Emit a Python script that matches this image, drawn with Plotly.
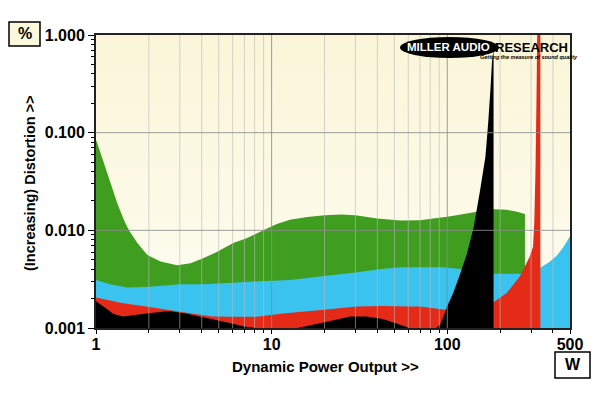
import plotly.graph_objects as go

# ---- data (W, %) ----
green_x = [1, 1.017, 1.11, 1.21, 1.32, 1.44, 1.54, 1.72, 1.96, 2.33, 2.9, 3.46, 4.1, 4.87, 6.05, 7.2, 8.97, 10.7, 12.7, 16, 20, 25, 30, 40, 54, 70, 83, 100, 113, 147, 185, 218, 249, 277]
green_y = [0.084, 0.078, 0.0487, 0.0305, 0.019, 0.0128, 0.010, 0.0074, 0.0056, 0.0048, 0.0044, 0.0046, 0.0052, 0.0060, 0.0074, 0.0083, 0.010, 0.0116, 0.0128, 0.0137, 0.0143, 0.0145, 0.0143, 0.0132, 0.0126, 0.0127, 0.0132, 0.0138, 0.0143, 0.0155, 0.0164, 0.0162, 0.0155, 0.0147]

cyan_x = [1, 1.2, 1.5, 1.76, 2, 3, 4, 6, 8, 12.7, 20, 30, 41, 54, 80, 95, 123, 150, 185, 277, 341, 380, 420, 460, 500]
cyan_y = [0.0031, 0.0028, 0.0026, 0.00262, 0.00265, 0.0028, 0.0028, 0.0029, 0.0030, 0.0031, 0.0034, 0.0037, 0.0040, 0.0042, 0.0042, 0.0042, 0.0040, 0.0038, 0.0036, 0.0036, 0.0042, 0.0047, 0.0055, 0.0068, 0.0087]

red_x = [1, 1.4, 1.93, 3, 4.6, 6, 8.2, 11.6, 20.5, 30.5, 43, 61, 70, 100, 120, 150, 185, 218, 260, 295, 308, 313, 318, 322, 326, 339]
red_y = [0.00205, 0.0018, 0.00166, 0.00147, 0.00131, 0.0013, 0.0013, 0.00141, 0.00155, 0.00166, 0.00168, 0.00166, 0.00166, 0.00153, 0.0015, 0.0016, 0.00186, 0.00228, 0.0034, 0.0054, 0.0068, 0.012, 0.04, 0.2, 1.5, 1.5]

black_x = [1, 1.14, 1.25, 1.42, 1.93, 2.6, 3.25, 4.2, 5.7, 7.1, 8.2, 10, 12, 13.3, 19.7, 28, 34.7, 43, 54, 61, 75, 85, 91, 95, 100, 108, 118.5, 129.6, 141.6, 154, 165, 171, 176, 180, 183.5]
black_y = [0.00188, 0.00159, 0.0014, 0.00131, 0.00141, 0.00149, 0.00141, 0.00127, 0.00113, 0.00103, 0.0010, 0.00085, 0.00085, 0.00098, 0.00114, 0.00131, 0.00131, 0.00124, 0.00108, 0.0010, 0.00095, 0.00098, 0.00108, 0.0013, 0.00168, 0.00227, 0.0036, 0.0058, 0.0109, 0.026, 0.057, 0.125, 0.27, 0.55, 0.7]

x_major = [1, 10, 100, 500]
x_major_text = ["1", "10", "100", "500"]
x_minor = [2, 3, 4, 5, 6, 7, 8, 9, 20, 30, 40, 50, 60, 70, 80, 90, 200, 300, 400]
y_major = [0.001, 0.01, 0.1, 1]
y_major_text = ["0.001", "0.010", "0.100", "1.000"]
y_minor = [m * 10 ** e for e in (-3, -2, -1) for m in range(2, 10)]

FLOOR = 0.0005
FONT = "Liberation Sans, Arial, sans-serif"

fig = go.Figure()

# background gradient of the plot area
fig.add_trace(go.Scatter(x=[1, 500, 500, 1], y=[FLOOR, FLOOR, 2, 2], fill="toself", mode="none",
                         fillgradient=dict(type="vertical", colorscale=[[0, "#fefdf3"], [1, "#faf5d6"]]),
                         hoverinfo="skip", showlegend=False))

def area(xs, ys, color):
    fig.add_trace(go.Scatter(x=xs + [xs[-1], xs[0]], y=ys + [FLOOR, FLOOR], fill="toself",
                             mode="none", fillcolor=color, hoverinfo="skip", showlegend=False))

area(green_x, green_y, "#3f9d1f")
area(cyan_x, cyan_y, "#3bc3ef")
area(red_x, red_y, "#e52a17")
area(black_x, black_y, "#000000")

# grid lines drawn above the areas
def vlines(vals, color, width):
    xs, ys = [], []
    for v in vals:
        xs += [v, v, None]
        ys += [0.001, 1, None]
    fig.add_trace(go.Scatter(x=xs, y=ys, mode="lines", line=dict(color=color, width=width),
                             hoverinfo="skip", showlegend=False))

def hlines(vals, color, width):
    xs, ys = [], []
    for v in vals:
        xs += [1, 500, None]
        ys += [v, v, None]
    fig.add_trace(go.Scatter(x=xs, y=ys, mode="lines", line=dict(color=color, width=width),
                             hoverinfo="skip", showlegend=False))

vlines(x_minor, "rgba(185,185,185,0.6)", 1)
vlines([10, 100], "rgba(140,140,140,0.85)", 1)
hlines([0.01, 0.1], "rgba(140,140,140,0.85)", 1)

L, R, T, B = 96, 30, 35, 65
W, H = 600, 393
pw, ph = W - L - R, H - T - B

def px(x):
    return (x - L) / pw

def py(y):
    return (H - B - y) / ph

fig.update_layout(
    width=W, height=H,
    margin=dict(l=L, r=R, t=T, b=B),
    paper_bgcolor="white", plot_bgcolor="#fcf9e6",
    font=dict(family=FONT, color="black"),
    xaxis=dict(type="log", range=[0, 2.69897], tickvals=x_major, ticktext=x_major_text,
               ticks="outside", ticklen=4, tickwidth=1, tickcolor="black", ticklabelstandoff=-3,
               tickfont=dict(size=16, weight="bold"), showgrid=False, zeroline=False,
               showline=True, linecolor="#222", linewidth=2, mirror=True,
               minor=dict(tickvals=x_minor, ticks="outside", ticklen=3, tickcolor="black", showgrid=False)),
    yaxis=dict(type="log", range=[-3, 0], tickvals=y_major, ticktext=y_major_text,
               ticks="outside", ticklen=6, tickwidth=1, tickcolor="black",
               tickfont=dict(size=16, weight="bold"), showgrid=False, zeroline=False,
               showline=True, linecolor="#222", linewidth=2, mirror=True,
               minor=dict(tickvals=y_minor, ticks="outside", ticklen=3, tickcolor="black", showgrid=False)),
)

shapes = [
    # logo ellipse
    dict(type="circle", xref="paper", yref="paper", x0=px(400), x1=px(499), y0=py(58), y1=py(37),
         fillcolor="black", line=dict(width=0), layer="above"),
    # % box
    dict(type="rect", xref="paper", yref="paper", x0=px(9), x1=px(40), y0=py(46), y1=py(22),
         fillcolor="#fbf8dc", line=dict(color="black", width=1.5), layer="above"),
    # W box
    dict(type="rect", xref="paper", yref="paper", x0=px(555), x1=px(590), y0=py(378), y1=py(352),
         fillcolor="white", line=dict(color="black", width=1.5), layer="above"),
]
fig.update_layout(shapes=shapes)

ann = [
    dict(text="MILLER AUDIO", x=px(448), y=py(47.5), font=dict(size=11.5, color="white", weight="bold")),
    dict(text="RESEARCH", x=px(531), y=py(47.5), font=dict(size=13, color="black", weight="bold")),
    dict(text="<i>Getting the measure of sound quality</i>", x=px(529), y=py(57), font=dict(size=5.5, color="black", weight="bold")),
    dict(text="%", x=px(24.5), y=py(34), font=dict(size=16, weight="bold")),
    dict(text="W", x=px(572.5), y=py(365), font=dict(size=16, weight="bold")),
    dict(text="Dynamic Power Output >>", x=px(325), y=py(366), font=dict(size=15, weight="bold")),
    dict(text="(Increasing) Distortion >>", x=px(30), y=py(183), textangle=-90, font=dict(size=14.5, weight="bold")),
]
for a in ann:
    a.update(xref="paper", yref="paper", showarrow=False, xanchor="center", yanchor="middle")
fig.update_layout(annotations=ann)

fig.write_html("out.html", config={"displayModeBar": False},
               post_script="document.body.style.margin='0';")
